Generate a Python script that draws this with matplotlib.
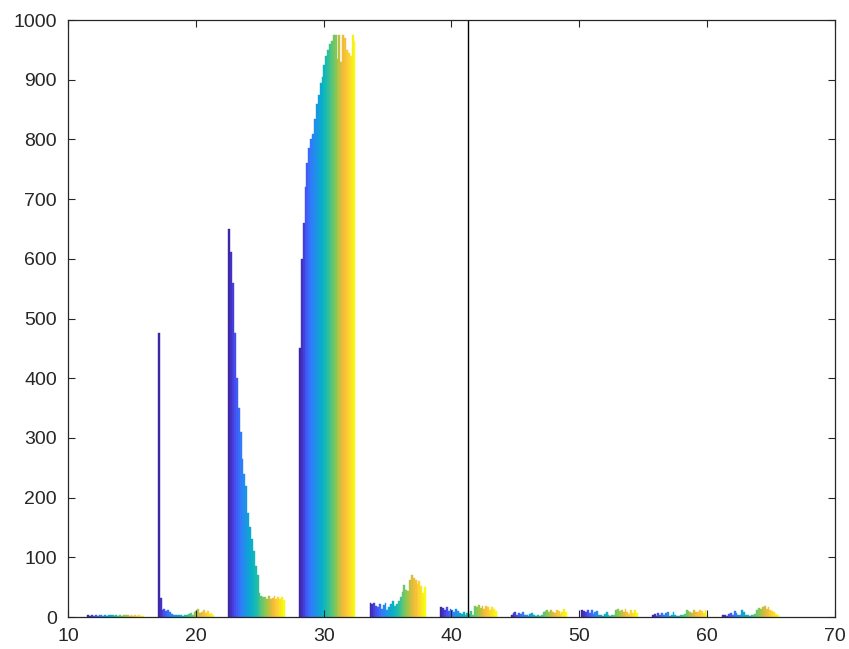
import numpy as np
import matplotlib.pyplot as plt
from matplotlib.colors import LinearSegmentedColormap

plt.rcParams["font.family"] = ["Liberation Sans", "DejaVu Sans"]

# group centres on the x axis and the marker line
GROUP_X = [13.72, 19.24, 24.76, 30.28, 35.80, 41.32, 46.84, 52.36, 57.88, 63.40]
MARKER_X = 41.32

# one list per group, 30 series each (left = first series)
G1 = [3, 2, 3, 2, 3, 2, 4, 3, 2, 3, 2, 3, 4, 3, 2, 3, 2, 3, 2, 3, 4, 3, 2, 3, 2, 3, 2, 3, 2, 2]
G2 = [475, 32, 12, 14, 10, 12, 8, 5, 4, 3, 3, 4, 3, 2, 3, 4, 5, 6, 4, 8, 10, 14, 6, 8, 12, 6, 10, 5, 7, 3]
G3 = [650, 611, 560, 475, 400, 350, 310, 265, 240, 220, 175, 150, 130, 110, 85,
      70, 40, 36, 34, 33, 31, 35, 30, 32, 36, 30, 34, 31, 33, 29]
G4 = [450, 600, 660, 720, 760, 785, 800, 810, 835, 860, 875, 895, 905, 925, 940,
      950, 960, 965, 975, 975, 935, 975, 930, 975, 970, 950, 945, 940, 975, 965]
G5 = [24, 22, 24, 18, 16, 22, 14, 20, 24, 12, 16, 21, 26, 18, 22,
      26, 34, 42, 54, 46, 44, 62, 70, 66, 62, 56, 60, 52, 40, 50]
G6 = [16, 15, 12, 17, 10, 14, 12, 8, 14, 10, 6, 5, 8, 4, 6, 5, 10, 4, 18, 16, 20, 15, 18, 14, 19, 16, 12, 17, 14, 10]
G7 = [4, 6, 8, 3, 7, 5, 8, 4, 3, 2, 5, 7, 4, 2, 3, 2, 4, 8, 10, 12, 9, 11, 8, 6, 12, 10, 5, 8, 14, 9]
G8 = [12, 10, 8, 12, 6, 11, 5, 9, 10, 4, 3, 2, 5, 9, 4, 2, 3, 4, 12, 14, 10, 12, 8, 13, 9, 5, 11, 7, 12, 6]
G9 = [3, 5, 2, 6, 4, 7, 3, 6, 8, 2, 3, 9, 4, 2, 2, 3, 4, 5, 12, 10, 8, 6, 11, 9, 8, 12, 10, 6, 11, 4]
G10 = [3, 4, 2, 5, 7, 4, 10, 6, 4, 3, 11, 8, 4, 3, 2, 3, 4, 5, 12, 15, 13, 16, 18, 14, 17, 12, 10, 8, 5, 3]

XTICKS = [10, 20, 30, 40, 50, 60, 70]
YTICKS = [0, 100, 200, 300, 400, 500, 600, 700, 800, 900, 1000]

# rough parula
PARULA = LinearSegmentedColormap.from_list("parula", [
    (0.0, (0.2422, 0.1504, 0.6603)),
    (0.1, (0.2780, 0.2972, 0.9400)),
    (0.2, (0.2000, 0.4700, 0.9900)),
    (0.3, (0.1100, 0.5800, 0.9000)),
    (0.4, (0.0300, 0.6800, 0.8000)),
    (0.5, (0.1200, 0.7400, 0.6600)),
    (0.6, (0.3700, 0.7800, 0.4500)),
    (0.7, (0.6600, 0.7700, 0.2600)),
    (0.8, (0.9500, 0.7300, 0.2300)),
    (0.9, (0.9900, 0.8300, 0.1900)),
    (1.0, (0.9763, 0.9831, 0.0538)),
])

Y = np.array([G1, G2, G3, G4, G5, G6, G7, G8, G9, G10], dtype=float)
x = np.array(GROUP_X)
n_series = Y.shape[1]
spacing = x[1] - x[0]
group_w = 0.8 * spacing
bw = group_w / n_series

fig = plt.figure(figsize=(8.49, 6.49), dpi=100)
ax = fig.add_axes([0.080, 0.0493, 0.9035, 0.9197])

for k in range(n_series):
    c = PARULA(k / (n_series - 1))
    off = -group_w / 2 + (k + 0.5) * bw
    ax.bar(x + off, Y[:, k], width=bw, color=c, edgecolor=c, linewidth=0.3)

ax.axvline(MARKER_X, color="black", linewidth=1.0)

ax.set_xlim(10, 70)
ax.set_ylim(0, 1000)
ax.set_xticks(XTICKS)
ax.set_yticks(YTICKS)
ax.tick_params(direction="in", length=5, width=0.8, colors="#262626",
               labelsize=14, top=True, right=True, pad=8)
for s in ax.spines.values():
    s.set_color("#262626")
    s.set_linewidth(0.9)

fig.savefig("out.png", dpi=100)
